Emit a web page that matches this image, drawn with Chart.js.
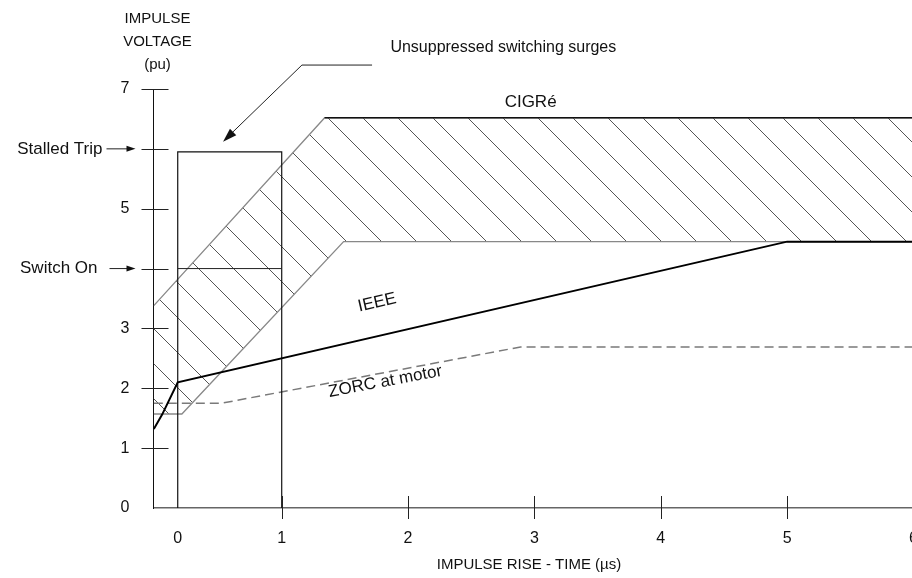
<!DOCTYPE html>
<html lang="en">
<head>
<meta charset="UTF-8">
<title>impulse voltage vs rise time</title>
<script src="https://cdn.jsdelivr.net/npm/chart.js"></script>
<style>
    html, body { margin: 0; padding: 0; background: #fff; overflow: hidden; }
    #surgeChart { display: block; }
</style>
</head>
<body>

<!-- canvas is a bit wider than the window so the "6" gets cut like in the drawing -->
<canvas id="surgeChart" width="940" height="578"></canvas>

<script>
// tick values
var xTicks = [0, 1, 2, 3, 4, 5, 6];
var yTicks = [0, 1, 2, 3, 4, 5, 6, 7];
var yUnlabelled = [4, 6];   // these get the arrow notes instead

// CIGRé band, closed outline
var cigreX = [-0.23, 1.34, 6.3, 6.3, 1.49, 0.04, -0.23];
var cigreY = [3.38, 6.52, 6.52, 4.45, 4.45, 1.57, 1.57];
var cigreTopX = [1.34, 6.3];
var cigreTopY = [6.52, 6.52];

// IEEE
var ieeeX = [-0.23, -0.15, 0, 5, 6.3];
var ieeeY = [1.32, 1.56, 2.1, 4.45, 4.45];

// ZORC at motor
var zorcX = [-0.23, 0.42, 2.89, 6.3];
var zorcY = [1.75, 1.75, 2.69, 2.69];

// unsuppressed switching surge box
var boxX = [0, 0, 1, 1];
var boxY = [0, 5.95, 5.95, 0];
var switchOnX = [0, 1];
var switchOnY = [4, 4];

var FONT = "'Liberation Sans', Arial, sans-serif";

// the drawing squeezes the 0..1 span of the time axis
var firstUnit = 0.823;
function warp(v) { return v < 1 ? v * firstUnit : firstUnit + v - 1; }
function unwarp(u) { return u < firstUnit ? u / firstUnit : u - firstUnit + 1; }

class SurgeTimeScale extends Chart.LinearScale {
    static id = 'surgetime';
    getPixelForValue(value) {
        var a = warp(this.min), b = warp(this.max);
        return this.getPixelForDecimal((warp(value) - a) / (b - a));
    }
    getValueForPixel(pixel) {
        var a = warp(this.min), b = warp(this.max);
        return unwarp(a + this.getDecimalForPixel(pixel) * (b - a));
    }
}
Chart.register(SurgeTimeScale);

function pts(xs, ys) {
    return xs.map(function (x, i) { return {x: x, y: ys[i]}; });
}

function makeHatch() {
    var s = 35;
    var c = document.createElement('canvas');
    c.width = s; c.height = s;
    var g = c.getContext('2d');
    g.strokeStyle = '#555';
    g.lineWidth = 1;
    for (var k = -1; k <= 1; k++) {
        g.beginPath();
        g.moveTo(-2, -2 + k * s);
        g.lineTo(s + 2, s + 2 + k * s);
        g.stroke();
    }
    return g.createPattern(c, 'repeat');
}

function line(ctx, x1, y1, x2, y2) {
    ctx.beginPath();
    ctx.moveTo(x1, y1);
    ctx.lineTo(x2, y2);
    ctx.stroke();
}

function arrowHead(ctx, fromX, fromY, tipX, tipY, len, half) {
    var ang = Math.atan2(tipY - fromY, tipX - fromX);
    ctx.beginPath();
    ctx.moveTo(tipX, tipY);
    ctx.lineTo(tipX - len * Math.cos(ang) + half * Math.sin(ang), tipY - len * Math.sin(ang) - half * Math.cos(ang));
    ctx.lineTo(tipX - len * Math.cos(ang) - half * Math.sin(ang), tipY - len * Math.sin(ang) + half * Math.cos(ang));
    ctx.closePath();
    ctx.fill();
}

function rotatedText(ctx, text, px, py, ang) {
    ctx.save();
    ctx.translate(px, py);
    ctx.rotate(ang);
    ctx.fillText(text, 0, 0);
    ctx.restore();
}

// ticks crossing the axes, axis titles and the text notes
var notes = {
    id: 'notes',
    afterDraw: function (chart) {
        var ctx = chart.ctx, x = chart.scales.x, y = chart.scales.y, a = chart.chartArea;
        ctx.save();
        ctx.strokeStyle = '#222';
        ctx.fillStyle = '#111';
        ctx.lineWidth = 1;

        yTicks.forEach(function (v) {
            if (v === 0) return;
            var py = Math.round(y.getPixelForValue(v)) + 0.5;
            line(ctx, a.left - 12, py, a.left + 15, py);
        });
        xTicks.forEach(function (v) {
            if (v === 0) return;
            var px = Math.round(x.getPixelForValue(v)) + 0.5;
            line(ctx, px, a.bottom - 12, px, a.bottom + 11);
        });

        ctx.textBaseline = 'middle';

        // axis titles
        ctx.font = '15px ' + FONT;
        ctx.textAlign = 'center';
        ctx.fillText('IMPULSE', a.left + 4, 19);
        ctx.fillText('VOLTAGE', a.left + 4, 42);
        ctx.fillText('(pu)', a.left + 4, 65);
        ctx.fillText('IMPULSE RISE - TIME (\u00b5s)', 529, 565);

        // arrow notes on the voltage axis
        ctx.font = '17px ' + FONT;
        ctx.textAlign = 'right';
        var ys = y.getPixelForValue(6);
        ctx.fillText('Stalled Trip', a.left - 51, ys);
        line(ctx, a.left - 47, ys, a.left - 24, ys);
        arrowHead(ctx, a.left - 47, ys, a.left - 18, ys, 9, 3);
        var yo = y.getPixelForValue(4);
        ctx.fillText('Switch On', a.left - 56, yo);
        line(ctx, a.left - 44, yo, a.left - 24, yo);
        arrowHead(ctx, a.left - 44, yo, a.left - 18, yo, 9, 3);

        // leader to the surge box
        var tipX = x.getPixelForValue(0.436), tipY = y.getPixelForValue(6.12);
        var cX = x.getPixelForValue(1.16), cY = y.getPixelForValue(7.4);
        var eX = x.getPixelForValue(1.715);
        line(ctx, eX, cY, cX, cY);
        line(ctx, cX, cY, tipX + 6, tipY - 6);
        arrowHead(ctx, cX, cY, tipX, tipY, 14, 4.5);
        ctx.font = '16px ' + FONT;
        ctx.textAlign = 'left';
        ctx.fillText('Unsuppressed switching surges', x.getPixelForValue(1.86), y.getPixelForValue(7.69));

        // curve names
        ctx.font = '17px ' + FONT;
        ctx.textAlign = 'center';
        ctx.fillText('CIGR\u00e9', x.getPixelForValue(2.97), y.getPixelForValue(6.78));

        var angI = Math.atan2(y.getPixelForValue(ieeeY[3]) - y.getPixelForValue(ieeeY[2]),
                              x.getPixelForValue(ieeeX[3]) - x.getPixelForValue(ieeeX[2]));
        rotatedText(ctx, 'IEEE', x.getPixelForValue(1.755), y.getPixelForValue(3.43), angI);

        var angZ = Math.atan2(y.getPixelForValue(zorcY[2]) - y.getPixelForValue(zorcY[1]),
                              x.getPixelForValue(zorcX[2]) - x.getPixelForValue(zorcX[1]));
        rotatedText(ctx, 'ZORC at motor', x.getPixelForValue(1.82), y.getPixelForValue(2.11), angZ);

        ctx.restore();
    }
};

var ctx = document.getElementById('surgeChart').getContext('2d');
var surgeChart = new Chart(ctx, {
    type: 'scatter',
    data: {
        datasets: [
            {label: 'IEEE', data: pts(ieeeX, ieeeY), showLine: true, borderColor: '#000', borderWidth: 2, pointRadius: 0},
            {label: 'Switch On', data: pts(switchOnX, switchOnY), showLine: true, borderColor: '#222', borderWidth: 1, pointRadius: 0},
            {label: 'Surge box', data: pts(boxX, boxY), showLine: true, borderColor: '#111', borderWidth: 1.2, pointRadius: 0},
            {label: 'ZORC at motor', data: pts(zorcX, zorcY), showLine: true, borderColor: '#7a7a7a', borderWidth: 1.5, borderDash: [9, 5], pointRadius: 0},
            {label: 'CIGRé top', data: pts(cigreTopX, cigreTopY), showLine: true, borderColor: '#111', borderWidth: 1.5, pointRadius: 0},
            {label: 'CIGRé', data: pts(cigreX, cigreY), showLine: true, borderColor: '#888', borderWidth: 1.3, pointRadius: 0,
                backgroundColor: makeHatch(), fill: 'shape'}
        ]
    },
    options: {
        responsive: false,
        animation: false,
        devicePixelRatio: 1,
        layout: {padding: {top: 89, left: 0, right: 0, bottom: 0}},
        plugins: {legend: {display: false}, tooltip: {enabled: false}},
        scales: {
            x: {
                type: 'surgetime',
                min: -0.233,
                max: 6.21,
                grid: {display: false, drawTicks: false},
                border: {color: '#666', width: 1.5},
                afterBuildTicks: function (s) { s.ticks = xTicks.map(function (v) { return {value: v}; }); },
                afterFit: function (s) { s.height = 70; },
                ticks: {padding: 21, color: '#111', autoSkip: false, maxRotation: 0,
                    font: {family: FONT, size: 16},
                    callback: function (v) { return String(v); }}
            },
            y: {
                min: 0,
                max: 7,
                grid: {display: false, drawTicks: false},
                border: {color: '#111', width: 1},
                afterBuildTicks: function (s) { s.ticks = yTicks.map(function (v) { return {value: v}; }); },
                afterFit: function (s) { s.width = 153.5; },
                ticks: {padding: 24, color: '#111', font: {family: FONT, size: 16},
                    callback: function (v) { return yUnlabelled.indexOf(v) >= 0 ? '' : String(v); }}
            }
        }
    },
    plugins: [notes]
});
</script>
</body>
</html>
